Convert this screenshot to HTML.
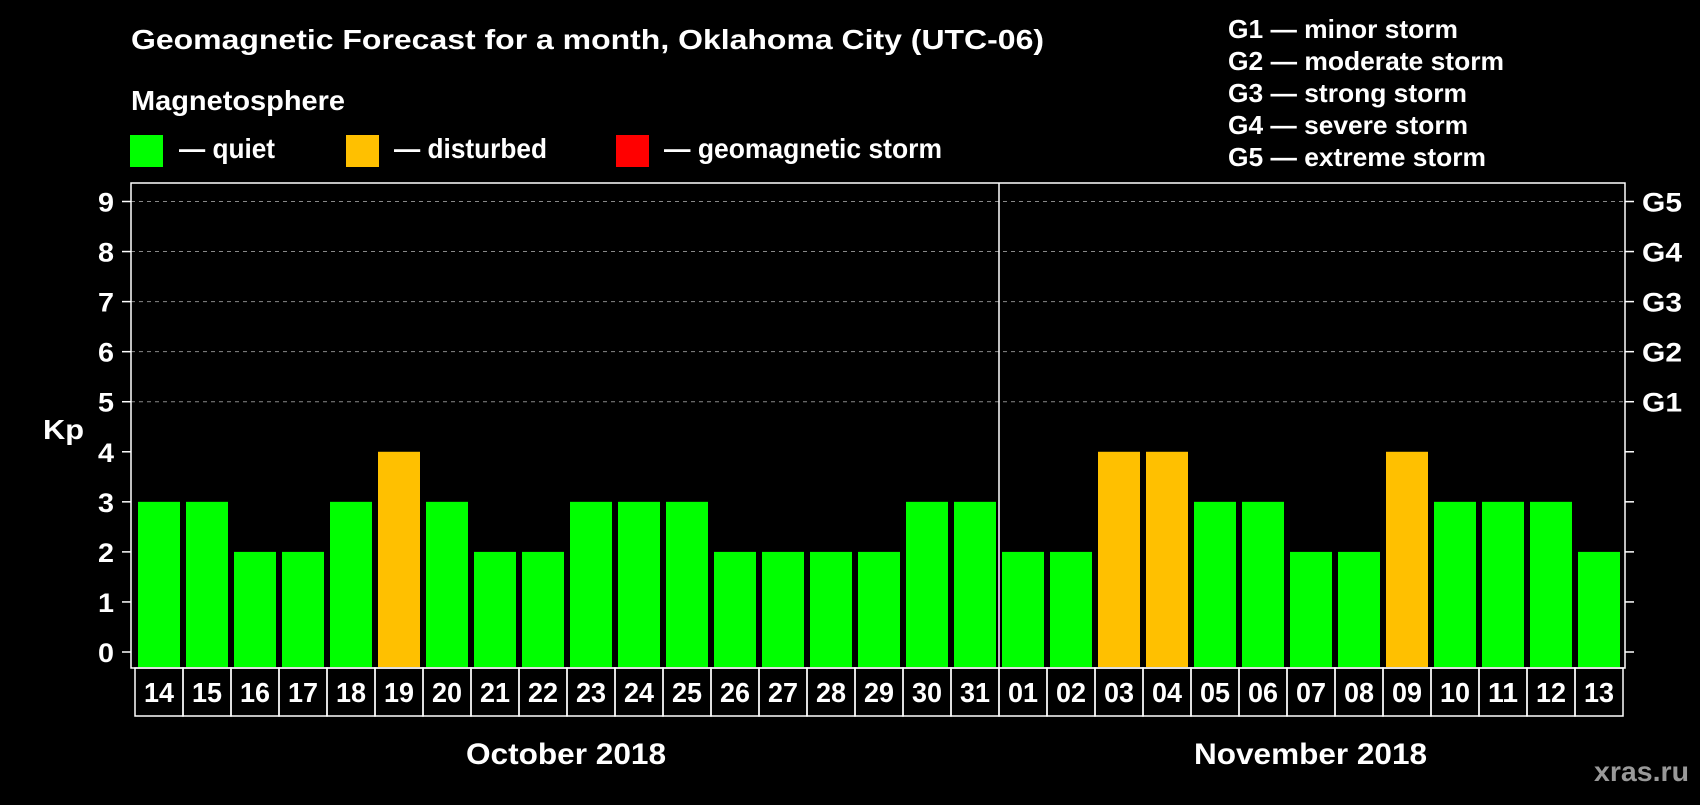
<!DOCTYPE html>
<html><head><meta charset="utf-8"><style>
body{margin:0;background:#000;width:1700px;height:800px;overflow:hidden}
svg{font-family:"Liberation Sans",Arial,sans-serif;font-weight:bold}
</style></head><body>
<svg id="c" width="1700" height="800">
<text x="131" y="49" fill="#fff" font-size="28" textLength="913" lengthAdjust="spacingAndGlyphs">Geomagnetic Forecast for a month, Oklahoma City (UTC-06)</text>
<text x="131" y="110" fill="#fff" font-size="28" textLength="214" lengthAdjust="spacingAndGlyphs">Magnetosphere</text>
<rect x="130" y="135" width="33" height="32" fill="#00ff00"/>
<text x="179" y="158" fill="#fff" font-size="28" textLength="96" lengthAdjust="spacingAndGlyphs">— quiet</text>
<rect x="346" y="135" width="33" height="32" fill="#ffc000"/>
<text x="394" y="158" fill="#fff" font-size="28" textLength="153" lengthAdjust="spacingAndGlyphs">— disturbed</text>
<rect x="616" y="135" width="33" height="32" fill="#ff0000"/>
<text x="664" y="158" fill="#fff" font-size="28" textLength="278" lengthAdjust="spacingAndGlyphs">— geomagnetic storm</text>
<g fill="#fff" font-size="26" lengthAdjust="spacingAndGlyphs">
<text x="1228" y="38" textLength="230" lengthAdjust="spacingAndGlyphs">G1 — minor storm</text>
<text x="1228" y="70" textLength="276" lengthAdjust="spacingAndGlyphs">G2 — moderate storm</text>
<text x="1228" y="102" textLength="239" lengthAdjust="spacingAndGlyphs">G3 — strong storm</text>
<text x="1228" y="134" textLength="240" lengthAdjust="spacingAndGlyphs">G4 — severe storm</text>
<text x="1228" y="166" textLength="258" lengthAdjust="spacingAndGlyphs">G5 — extreme storm</text>
</g>
<text x="43" y="439" fill="#fff" font-size="28" textLength="41" lengthAdjust="spacingAndGlyphs">Kp</text>
<text x="466" y="764" fill="#fff" font-size="30" textLength="200" lengthAdjust="spacingAndGlyphs">October 2018</text>
<text x="1194" y="764" fill="#fff" font-size="30" textLength="233" lengthAdjust="spacingAndGlyphs">November 2018</text>
<text x="1594" y="781" fill="#999" font-size="28" textLength="95" lengthAdjust="spacingAndGlyphs">xras.ru</text>
</svg>
<script>
const days=["14","15","16","17","18","19","20","21","22","23","24","25","26","27","28","29","30","31","01","02","03","04","05","06","07","08","09","10","11","12","13"];
const kp=[3,3,2,2,3,4,3,2,2,3,3,3,2,2,2,2,3,3,2,2,4,4,3,3,2,2,4,3,3,3,2];
const yTicks=[0,1,2,3,4,5,6,7,8,9];
const gLabels=["G1","G2","G3","G4","G5"];
const monthBreak=18;
const svg=document.getElementById('c'),NS="http://www.w3.org/2000/svg";
const L=131,R=1625,T=183,B=668,boxL=135,step=48;
const y=v=>652-v*(652-201.5)/9;
const x=i=>boxL+i*step;
function mk(t,a){const e=document.createElementNS(NS,t);for(const k in a)e.setAttribute(k,a[k]);svg.appendChild(e);return e;}
yTicks.forEach(v=>{
 if(v>=5){const g=mk('line',{x1:L,x2:R,y1:y(v),y2:y(v),stroke:'#888','stroke-dasharray':'4,4','stroke-width':1});
 
 }
 const t=mk('line',{x1:L-9,x2:L,y1:y(v),y2:y(v),stroke:'#fff','stroke-width':1.5});
 
 
 const t2=mk('line',{x1:R,x2:R+9,y1:y(v),y2:y(v),stroke:'#fff','stroke-width':1.5});
 
 
 const l=mk('text',{x:98,y:y(v)+10,fill:'#fff','font-size':27,textLength:16,lengthAdjust:'spacingAndGlyphs'});l.textContent=v;
 
 
});
gLabels.forEach((g,i)=>{const l=mk('text',{x:R+17,y:y(5+i)+10,fill:'#fff','font-size':27,textLength:40,lengthAdjust:'spacingAndGlyphs'});l.textContent=g;
 
 });
kp.forEach((v,i)=>{
 const c=v>=5?'#ff0000':v>=4?'#ffc000':'#00ff00';
 const b=mk('rect',{x:x(i)+3,y:y(v),width:42,height:B-1-y(v),fill:c});
 
 
 const bx=mk('rect',{x:x(i),y:B,width:step,height:48,fill:'none',stroke:'#fff','stroke-width':1.5});
 
 
 const t=mk('text',{x:x(i)+step/2-15,y:702,fill:'#fff','font-size':28,textLength:30,lengthAdjust:'spacingAndGlyphs'});t.textContent=days[i];
 
 
});
const f=mk('rect',{x:L,y:T,width:R-L,height:B-T,fill:'none',stroke:'#fff','stroke-width':1.5});


const s=mk('line',{x1:x(monthBreak),x2:x(monthBreak),y1:T,y2:B,stroke:'#fff','stroke-width':1.5});


</script>
</body></html>
